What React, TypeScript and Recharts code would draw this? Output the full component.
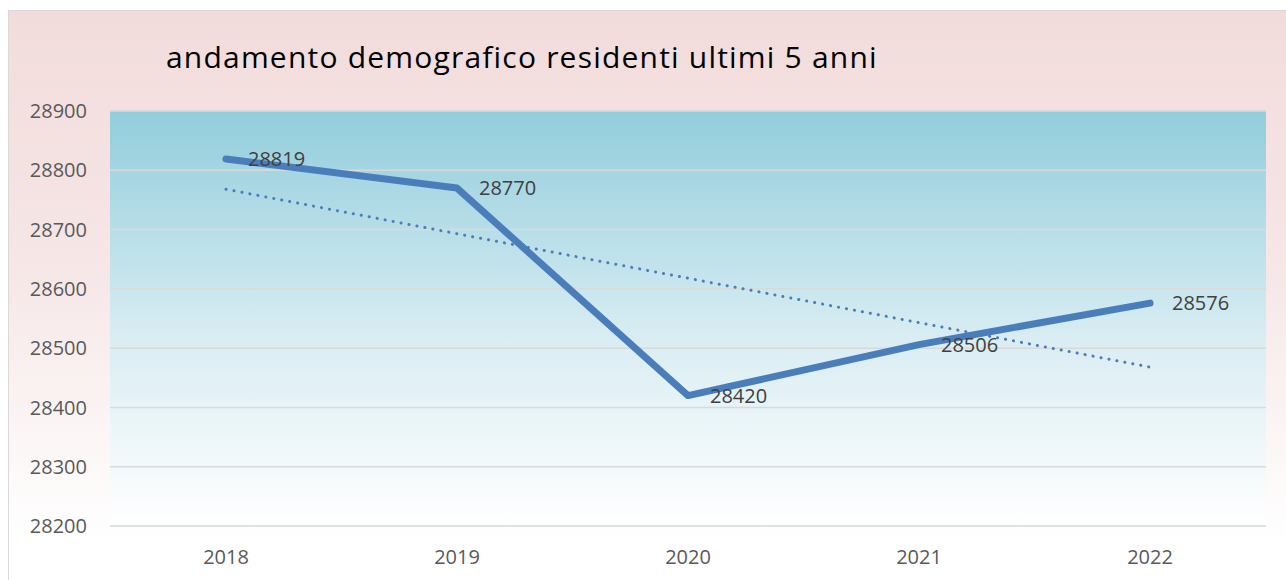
import { LineChart, Line, XAxis, YAxis, CartesianGrid, LabelList } from 'recharts';

const anni = ['2018', '2019', '2020', '2021', '2022'];
const residenti = [28819, 28770, 28420, 28506, 28576];
// linea di tendenza
const tendenza = [28768, 28693, 28618, 28543, 28468];
const tickY = [28200, 28300, 28400, 28500, 28600, 28700, 28800, 28900];

const dati = anni.map((a, i) => ({ anno: a, residenti: residenti[i], tendenza: tendenza[i] }));

const font = '"Open Sans", "Liberation Sans", Arial, sans-serif';

export default function App() {
  return (
    <div style={{ position: 'fixed', inset: 0, overflow: 'hidden', background: '#fff' }}>
      <div
        style={{
          position: 'absolute',
          left: 8,
          top: 10,
          width: 1300,
          height: 640,
          border: '1px solid #d9d9d9',
          background: 'linear-gradient(to bottom, #f2dcdb 0px, #f6e6e6 250px, #ffffff 530px)',
        }}
      >
        <div
          style={{
            position: 'absolute',
            left: 157,
            top: 25,
            fontFamily: font,
            fontSize: 30,
            letterSpacing: 1.2,
            color: '#000',
            whiteSpace: 'nowrap',
          }}
        >
          andamento demografico residenti ultimi 5 anni
        </div>
        <div style={{ position: 'absolute', left: 0, top: 0 }}>
          <LineChart width={1277} height={569} data={dati} margin={{ top: 100, right: 20, left: 0, bottom: 0 }}>
            <defs>
              <linearGradient id="sfondo" x1="0" y1="0" x2="0" y2="1">
                <stop offset="0%" stopColor="#92cddc" />
                <stop offset="55%" stopColor="#d9edf3" />
                <stop offset="100%" stopColor="#ffffff" />
              </linearGradient>
            </defs>
            <CartesianGrid vertical={false} stroke="#d9d9d9" strokeWidth={1.5} fill="url(#sfondo)" fillOpacity={1} />
            <XAxis
              dataKey="anno"
              axisLine={false}
              tickLine={false}
              tickSize={0}
              tickMargin={24}
              height={54}
              padding={{ left: 116, right: 116 }}
              tick={{ fill: '#595959', fontSize: 20, fontFamily: font }}
            />
            <YAxis
              domain={[28200, 28900]}
              ticks={tickY}
              axisLine={false}
              tickLine={false}
              tickSize={0}
              tickMargin={23}
              width={101}
              tick={{ fill: '#595959', fontSize: 20, fontFamily: font }}
            />
            <Line
              type="linear"
              dataKey="tendenza"
              stroke="#4a7ebb"
              strokeWidth={3}
              strokeDasharray="0.1 8"
              strokeLinecap="round"
              dot={false}
              activeDot={false}
              isAnimationActive={false}
            />
            <Line
              type="linear"
              dataKey="residenti"
              stroke="#4a7ebb"
              strokeWidth={7}
              strokeLinecap="round"
              strokeLinejoin="round"
              dot={false}
              activeDot={false}
              isAnimationActive={false}
            >
              <LabelList dataKey="residenti" position="right" offset={22} fill="#404040" fontSize={20} fontFamily={font} />
            </Line>
          </LineChart>
        </div>
      </div>
    </div>
  );
}
